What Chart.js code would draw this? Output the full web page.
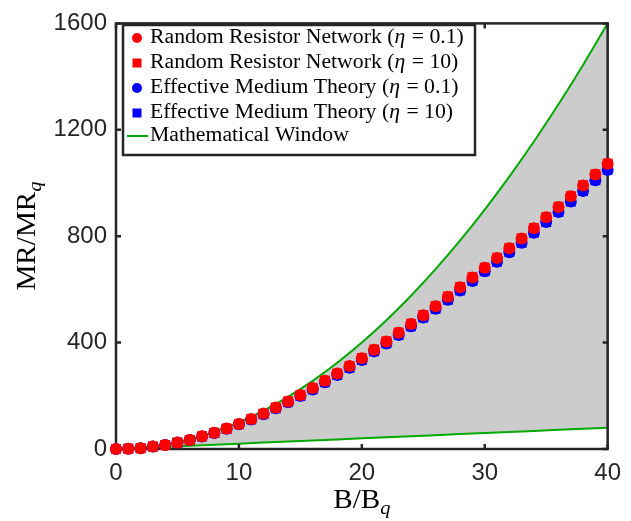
<!DOCTYPE html>
<html>
<head>
<meta charset="utf-8">
<script src="https://cdn.jsdelivr.net/npm/chart.js@4"></script>
<style>
    html, body { margin: 0; padding: 0; background: #fff; }
</style>
</head>
<body>
<canvas id="myChart" width="631" height="521"></canvas>
<script>
// B/Bq sample points
var b_values = [0,1,2,3,4,5,6,7,8,9,10,11,12,13,14,15,16,17,18,19,20,
                21,22,23,24,25,26,27,28,29,30,31,32,33,34,35,36,37,38,39,40];

// MR/MRq
var rrn_eta_01 = [0,1,3,9,15,24,34,48,61,77,94,113,133,156,179,203,229,257,284,312,341,
                  373,404,437,470,503,537,572,608,645,681,718,755,791,830,871,910,950,991,1032,1072];
var rrn_eta_10 = [0,1,3,9,15,24,34,48,61,77,94,113,133,156,179,203,229,257,284,312,342,
                  374,405,438,471,504,538,573,609,646,682,719,756,792,831,872,911,951,992,1033,1073];
var emt_eta_01 = [0,1,3,9,15,24,34,47,60,76,93,111,131,153,176,199,224,251,278,305,335,
                  367,397,429,461,494,527,561,596,632,668,704,740,775,813,853,891,930,970,1010,1049];
var emt_eta_10 = [0,1,3,9,15,24,34,47,60,76,93,111,131,153,176,199,224,251,278,305,335,
                  367,397,429,461,494,527,561,596,632,668,704,740,775,813,853,891,930,970,1010,1050];

// mathematical window edges
var window_b     = [0,2,4,6,8,10,12,14,16,18,20,22,24,26,28,30,32,34,36,38,40];
var window_upper = [0,4,16,36,64,100,144,196,256,324,400,484,576,676,784,900,1024,1156,1296,1444,1600];
var window_lower = [0,4,8,12,16,20,24,28,32,36,40,44,48,52,56,60,64,68,72,76,80];

var x_ticks = [0,10,20,30,40];
var y_ticks = [0,400,800,1200,1600];

var legend_rows = [
    ['Random Resistor Network (', 'η', ' = 0.1)'],
    ['Random Resistor Network (', 'η', ' = 10)'],
    ['Effective Medium Theory (', 'η', ' = 0.1)'],
    ['Effective Medium Theory (', 'η', ' = 10)'],
    ['Mathematical Window', '', '']
];

var RED = '#ff0000', BLUE = '#0000ff', GREEN = 'rgb(0,170,0)', AXIS = '#262626';
var SERIF = '"Liberation Serif", "DejaVu Serif", serif';
var SANS = '"Liberation Sans", Arial, sans-serif';

function pts(xs, ys){
    return xs.map(function(x, i){ return {x: x, y: ys[i]}; });
}

function markerSet(label, ys, color, style, radius, order){
    return {
        label: label,
        data: pts(b_values, ys),
        showLine: false,
        pointStyle: style,
        pointRadius: radius,
        pointHoverRadius: radius,
        pointBorderWidth: 0,
        backgroundColor: color,
        borderColor: color,
        clip: false,
        order: order
    };
}

// boxed frame with inward ticks, drawn right after the window lines
var framePlugin = {
    id: 'frame',
    afterDatasetDraw: function(chart, args){
        if (args.index !== 5) return;
        var ctx = chart.ctx, a = chart.chartArea;
        var xs = chart.scales.x, ys = chart.scales.y;
        ctx.save();
        ctx.strokeStyle = AXIS;
        ctx.lineWidth = 2.5;
        ctx.strokeRect(a.left, a.top, a.right - a.left, a.bottom - a.top);
        ctx.beginPath();
        x_ticks.forEach(function(t){
            var px = xs.getPixelForValue(t);
            ctx.moveTo(px, a.bottom); ctx.lineTo(px, a.bottom - 5);
            ctx.moveTo(px, a.top);    ctx.lineTo(px, a.top + 5);
        });
        y_ticks.forEach(function(t){
            var py = ys.getPixelForValue(t);
            ctx.moveTo(a.left, py);  ctx.lineTo(a.left + 5, py);
            ctx.moveTo(a.right, py); ctx.lineTo(a.right - 5, py);
        });
        ctx.stroke();
        ctx.restore();
    }
};

function drawSub(ctx, main, sub, size){
    // main text then italic subscript, centred on 0 with baseline at 0
    ctx.font = size + 'px ' + SERIF;
    var w1 = ctx.measureText(main).width;
    ctx.font = 'italic ' + Math.round(size * 0.7) + 'px ' + SERIF;
    var w2 = ctx.measureText(sub).width;
    var x0 = -(w1 + w2) / 2;
    ctx.textAlign = 'left';
    ctx.textBaseline = 'alphabetic';
    ctx.font = size + 'px ' + SERIF;
    ctx.fillText(main, x0, 0);
    ctx.font = 'italic ' + Math.round(size * 0.7) + 'px ' + SERIF;
    ctx.fillText(sub, x0 + w1, size * 0.22);
}

var decorPlugin = {
    id: 'decor',
    afterDraw: function(chart){
        var ctx = chart.ctx, a = chart.chartArea;
        ctx.save();
        ctx.fillStyle = '#000';

        // axis titles
        ctx.save();
        ctx.translate((a.left + a.right) / 2, 508);
        ctx.scale(1.08, 1);
        drawSub(ctx, 'B/B', 'q', 27);
        ctx.restore();

        ctx.save();
        ctx.translate(35, 236);
        ctx.rotate(-Math.PI / 2);
        ctx.scale(1.08, 1);
        drawSub(ctx, 'MR/MR', 'q', 27);
        ctx.restore();

        // legend box
        var lx = 123, ly = 25, lw = 352, lh = 130;
        ctx.fillStyle = '#fff';
        ctx.fillRect(lx, ly, lw, lh);
        ctx.strokeStyle = AXIS;
        ctx.lineWidth = 2.5;
        ctx.strokeRect(lx, ly, lw, lh);

        var rowY = [38, 63, 88, 113, 136];
        var mx = 137;
        ctx.fillStyle = RED;
        ctx.beginPath(); ctx.arc(mx, rowY[0], 5, 0, Math.PI * 2); ctx.fill();
        ctx.fillRect(mx - 4.5, rowY[1] - 4.5, 9, 9);
        ctx.fillStyle = BLUE;
        ctx.beginPath(); ctx.arc(mx, rowY[2], 5, 0, Math.PI * 2); ctx.fill();
        ctx.fillRect(mx - 4.5, rowY[3] - 4.5, 9, 9);
        ctx.strokeStyle = GREEN;
        ctx.lineWidth = 2;
        ctx.beginPath(); ctx.moveTo(127, rowY[4]); ctx.lineTo(148, rowY[4]); ctx.stroke();

        // labels, stretched a bit to match the wider TeX face
        ctx.fillStyle = '#000';
        ctx.textBaseline = 'middle';
        ctx.textAlign = 'left';
        var sx = 1.06;
        legend_rows.forEach(function(row, i){
            ctx.save();
            ctx.translate(150, rowY[i]);
            ctx.scale(sx, 1);
            var x = 0;
            ctx.font = '20.5px ' + SERIF;
            ctx.fillText(row[0], x, 0);
            x += ctx.measureText(row[0]).width;
            if (row[1]) {
                ctx.font = 'italic 20.5px ' + SERIF;
                ctx.fillText(row[1], x, 0);
                x += ctx.measureText(row[1]).width + 1;
                ctx.font = '20.5px ' + SERIF;
                ctx.fillText(row[2], x, 0);
            }
            ctx.restore();
        });
        ctx.restore();
    }
};

var config = {
    type: 'scatter',
    data: {
        datasets: [
            markerSet('Random Resistor Network (η = 0.1)', rrn_eta_01, RED, 'circle', 6, 2),
            markerSet('Random Resistor Network (η = 10)', rrn_eta_10, RED, 'rect', 7, 1),
            markerSet('Effective Medium Theory (η = 0.1)', emt_eta_01, BLUE, 'circle', 6, 4),
            markerSet('Effective Medium Theory (η = 10)', emt_eta_10, BLUE, 'rect', 7, 3),
            {
                label: 'Mathematical Window',
                data: pts(window_b, window_upper),
                showLine: true,
                borderColor: GREEN,
                borderWidth: 2,
                pointRadius: 0,
                backgroundColor: '#cccccc',
                fill: '+1',
                cubicInterpolationMode: 'monotone',
                order: 6
            },
            {
                label: 'window lower',
                data: pts(window_b, window_lower),
                showLine: true,
                borderColor: GREEN,
                borderWidth: 2,
                pointRadius: 0,
                fill: false,
                order: 5
            }
        ]
    },
    options: {
        responsive: false,
        animation: false,
        layout: { padding: { top: 18, right: 22, left: 0, bottom: 0 } },
        plugins: {
            legend: { display: false },
            tooltip: { enabled: false }
        },
        scales: {
            x: {
                type: 'linear',
                min: 0, max: 40,
                grid: { display: false, drawTicks: false },
                border: { display: false },
                ticks: {
                    stepSize: 10,
                    color: AXIS,
                    padding: 10,
                    font: { family: SANS, size: 24 },
                    callback: function(v){ return String(v); }
                },
                afterFit: function(s){ s.height = 72; }
            },
            y: {
                type: 'linear',
                min: 0, max: 1600,
                grid: { display: false, drawTicks: false },
                border: { display: false },
                ticks: {
                    stepSize: 400,
                    color: AXIS,
                    padding: 9,
                    font: { family: SANS, size: 24 },
                    callback: function(v){ return String(v); }
                },
                afterFit: function(s){ s.width = 116; }
            }
        }
    },
    plugins: [framePlugin, decorPlugin]
};

var myChart = new Chart(document.getElementById('myChart'), config);
</script>
</body>
</html>
